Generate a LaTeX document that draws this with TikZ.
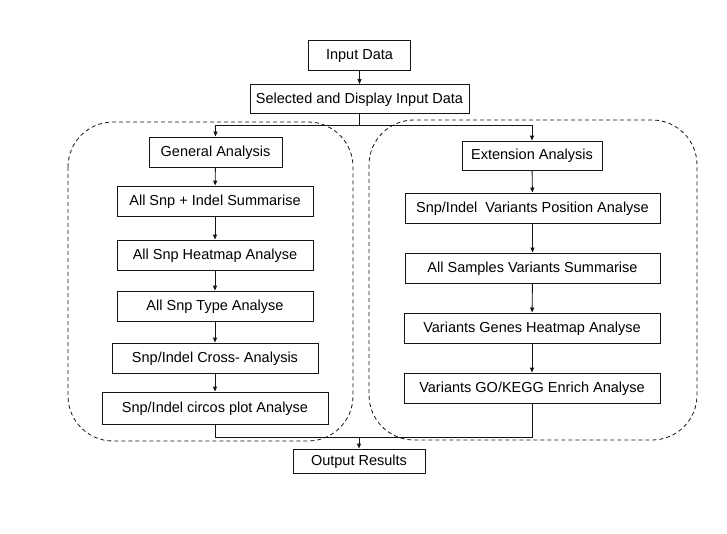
\documentclass[tikz,border=0pt]{standalone}
\usepackage{fontspec}
\setmainfont{Liberation Sans}
\usetikzlibrary{arrows.meta, positioning}
\definecolor{mydark}{RGB}{20,20,20}
\definecolor{mygray}{RGB}{60,60,60}
\tikzset{
  stepbox/.style={rectangle, draw=mydark, fill=white, minimum height=30pt,
    inner sep=2pt, text height=11pt, text depth=2pt,
    font=\fontsize{14.5}{16}\selectfont, line width=0.9pt},
  arrow/.style={-{Triangle[length=5pt, width=4pt]}, line width=0.9pt, color=mydark},
  line/.style={line width=0.9pt, color=mydark},
  groupbox/.style={draw=mydark, dash pattern=on 4pt off 3pt, line width=0.8pt,
    rounded corners=45pt}
}
\begin{document}
\begin{tikzpicture}[x=1pt, y=-1pt]
  \useasboundingbox (0,0) rectangle (727,534);

  % dashed groups for the two analysis branches
  \draw[groupbox] (68,122) rectangle (353,441);
  \draw[groupbox] (369,120) rectangle (697,440);

  % input part
  \node[stepbox, minimum width=102pt] (input) at (359.5,55) {Input Data};
  \node[stepbox, minimum width=219pt, minimum height=29pt] (select) at (359.5,99) {Selected and Display Input Data};

  % general analysis branch
  \node[stepbox, minimum width=133pt] (general) at (215.5,152) {General Analysis};
  \node[stepbox, minimum width=196pt] (summary) at (215,201) {All Snp + Indel Summarise};
  \node[stepbox, minimum width=196pt] (heatmap) at (215,255) {All Snp Heatmap Analyse};
  \node[stepbox, minimum width=196pt] (snptype) at (215,306) {All Snp Type Analyse};
  \node[stepbox, minimum width=206pt] (cross) at (215,358) {Snp/Indel Cross- Analysis};
  \node[stepbox, minimum width=226pt, minimum height=32pt] (circos) at (215,408) {Snp/Indel circos plot Analyse};

  % extension analysis branch
  \node[stepbox, minimum width=140pt, minimum height=29pt] (extension) at (532,155.5) {Extension Analysis};
  \node[stepbox, minimum width=255pt] (position) at (532.5,208) {Snp/Indel\ \ Variants Position Analyse};
  \node[stepbox, minimum width=255pt] (samples) at (532.5,268) {All Samples Variants Summarise};
  \node[stepbox, minimum width=256pt] (genes) at (532,328) {Variants Genes Heatmap Analyse};
  \node[stepbox, minimum width=256pt] (enrich) at (532,388) {Variants GO/KEGG Enrich Analyse};

  % output
  \node[stepbox, minimum width=132pt, minimum height=24pt] (output) at (359,461) {Output Results};

  % split and merge points
  \coordinate (split) at (359.5,125);
  \coordinate (merge) at (359,437);

  \draw[arrow] (input) -- (select);
  \draw[line] (select) -- (split);
  \draw[arrow] (split) -| (general);
  \draw[arrow] (split) -| (extension);

  \draw[arrow] (general) -- (summary);
  \draw[arrow] (summary) -- (heatmap);
  \draw[arrow] (heatmap) -- (snptype);
  \draw[arrow] (snptype) -- (cross);
  \draw[arrow] (cross) -- (circos);

  \draw[arrow] (extension) -- (position);
  \draw[arrow] (position) -- (samples);
  \draw[arrow] (samples) -- (genes);
  \draw[arrow] (genes) -- (enrich);

  \draw[line] (circos) |- (merge);
  \draw[line] (enrich) |- (merge);
  \draw[arrow] (merge) -- (output);
\end{tikzpicture}
\end{document}
